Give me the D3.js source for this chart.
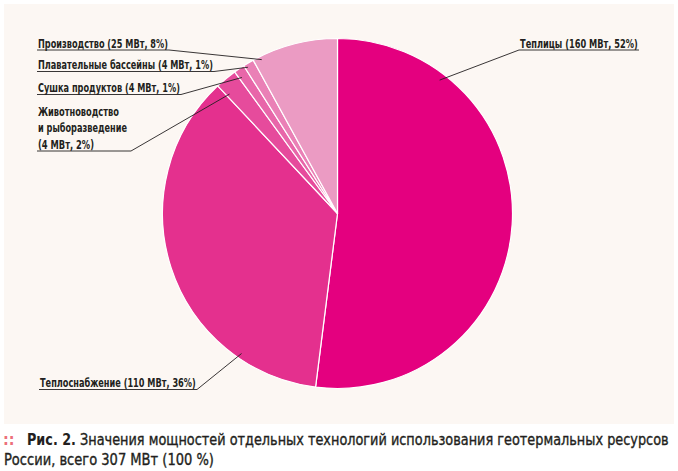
<!DOCTYPE html>
<html>
<head>
<meta charset="utf-8">
<script src="https://cdn.jsdelivr.net/npm/d3@7"></script>
<style>
  body { margin: 0; background: #fff; }
  svg { display: block; }
  text { font-family: "Liberation Sans Narrow", "DejaVu Sans Condensed", "Roboto", sans-serif; fill: #231f20; }
</style>
</head>
<body>
<svg></svg>
<script>
// Data
var categories = ["Теплицы", "Теплоснабжение", "Животноводство и рыборазведение",
                  "Сушка продуктов", "Плавательные бассейны", "Производство"]
var powerMW = [160, 110, 4, 4, 4, 25]
var sharePct = [52, 36, 2, 1, 1, 8]
var totalMW = 307

var colors = ["#e4007f", "#e4308e", "#e64b9c", "#e866a9", "#ea80b6", "#eb9bc3"]

// label layout: where the underlined text sits, and where the leader meets its slice
var labelLayout = [
    { x: 520, y: 47.5, w: 118, side: "left",  t: 0.20, r: 0.96 },
    { x: 40,  y: 387,  w: 156, side: "right", t: 0.21, r: 0.97 },
    { x: 38,  y: 115.5, w: 92, side: "right", t: 0.15, r: 0.92, lines: ["Животноводство", "и рыборазведение"] },
    { x: 38,  y: 92,   w: 142, side: "right", t: 0.25, r: 0.95 },
    { x: 38,  y: 69,   w: 175, side: "right", t: 0.25, r: 0.98 },
    { x: 38,  y: 47.5, w: 130, side: "right", t: 0.09, r: 0.98 }
]

var svgWidth = 678, svgHeight = 471
var svg = d3.select("svg").attr("width", svgWidth).attr("height", svgHeight)

// squeeze a text horizontally to a given width
function fitText(sel, x, y, width) {
    var natural = sel.node().getComputedTextLength()
    sel.attr("transform", "translate(" + x + "," + y + ") scale(" + (width / natural) + ",1)")
    return sel
}

// panel background
svg.append("rect")
    .attr("x", 4).attr("y", 4)
    .attr("width", 670).attr("height", 420)
    .attr("fill", "#fcf7f3")

var cx = 337.5, cy = 213.5, radius = 175

var pie = d3.pie().sort(null).value(function(d) { return d })
var arcs = pie(sharePct)
var arc = d3.arc().innerRadius(0).outerRadius(radius)

var g = svg.append("g").attr("transform", "translate(" + cx + "," + cy + ")")

g.selectAll("path")
    .data(arcs)
    .enter().append("path")
    .attr("d", arc)
    .attr("fill", function(d, i) { return colors[i] })
    .attr("stroke", "#ffffff")
    .attr("stroke-width", 1.2)
    .attr("stroke-linejoin", "round")

// Labels with underline and leader line
arcs.forEach(function(a, i) {
    var L = labelLayout[i]
    var ang = a.startAngle + L.t * (a.endAngle - a.startAngle)
    var px = cx + Math.sin(ang) * radius * L.r
    var py = cy - Math.cos(ang) * radius * L.r
    var label = categories[i] + " (" + powerMW[i] + " МВт, " + sharePct[i] + "%)"
    var lineY = L.y

    if (L.lines) {
        L.lines.forEach(function(t, k) {
            var s = svg.append("text")
                .attr("font-size", 11.5).attr("font-weight", "bold")
                .text(t)
            fitText(s, L.x, L.y + k * 16.5, k == 0 ? 81 : 89)
        })
        lineY = L.y + L.lines.length * 16.5
        label = "(" + powerMW[i] + " МВт, " + sharePct[i] + "%)"
        var s2 = svg.append("text")
            .attr("font-size", 11.5).attr("font-weight", "bold")
            .text(label)
        fitText(s2, L.x, lineY, 56)
    } else {
        var s3 = svg.append("text")
            .attr("font-size", 11.5).attr("font-weight", "bold")
            .text(label)
        fitText(s3, L.x, lineY, L.w)
    }

    var uy = lineY + 2.5
    var x0 = L.x - 1, x1 = L.x + L.w + 1
    var elbowX = L.side == "right" ? x1 : x0
    svg.append("path")
        .attr("d", "M" + x0 + "," + uy + "H" + x1 + "M" + elbowX + "," + uy + "L" + px + "," + py)
        .attr("fill", "none")
        .attr("stroke", "#231f20")
        .attr("stroke-width", 0.9)
})

// Caption
svg.append("text")
    .attr("x", 3).attr("y", 445)
    .attr("font-size", 16).attr("font-weight", "bold")
    .style("fill", "#ec6f7a")
    .text("::")
fitText(svg.append("text")
    .attr("font-size", 16).attr("font-weight", "bold")
    .text("Рис. 2."), 27, 445, 49)
fitText(svg.append("text")
    .attr("font-size", 16)
    .attr("stroke", "#231f20").attr("stroke-width", 0.35)
    .text("Значения мощностей отдельных технологий использования геотермальных ресурсов"), 80, 445, 589)
fitText(svg.append("text")
    .attr("font-size", 16)
    .attr("stroke", "#231f20").attr("stroke-width", 0.35)
    .text("России, всего " + totalMW + " МВт (100 %)"), 4, 465, 210)
</script>
</body>
</html>
